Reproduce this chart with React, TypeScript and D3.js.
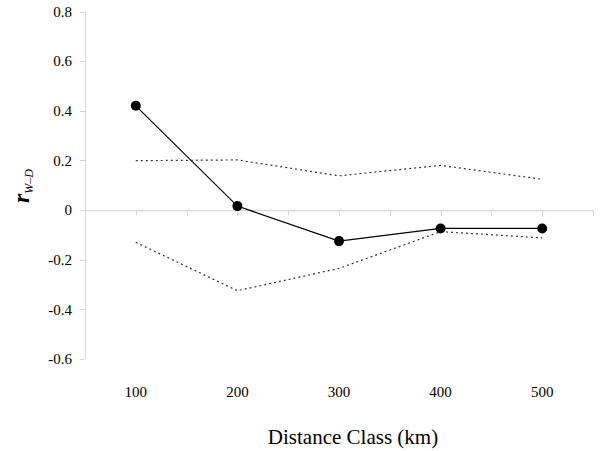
import { useRef, useEffect } from "react";
import * as d3 from "d3";

const distances = [100, 200, 300, 400, 500];
const observed = [0.42, 0.016, -0.125, -0.074, -0.074];
const upperCI = [0.199, 0.202, 0.138, 0.18, 0.124];
const lowerCI = [-0.13, -0.325, -0.235, -0.087, -0.112];
const yTicks = [0.8, 0.6, 0.4, 0.2, 0, -0.2, -0.4, -0.6];
const xTickLabels = ["100", "200", "300", "400", "500"];

const width = 600;
const height = 451;
const font = "Liberation Serif, Times New Roman, Times, DejaVu Serif, serif";
const axisColor = "#d9d9d9";

export default function App() {
  const svgRef = useRef<SVGSVGElement>(null);

  useEffect(() => {
    const svg = d3.select(svgRef.current);
    svg.selectAll("*").remove();

    const x = d3.scaleLinear().domain([50, 550]).range([85, 593]);
    const y = d3.scaleLinear().domain([-0.6, 0.8]).range([359, 11.5]);

    // y axis
    svg.append("line")
      .attr("x1", 85.5).attr("x2", 85.5)
      .attr("y1", y(0.8)).attr("y2", y(-0.6))
      .attr("stroke", axisColor).attr("stroke-width", 1);

    svg.selectAll(".ytick")
      .data(yTicks)
      .enter()
      .append("line")
      .attr("x1", 80).attr("x2", 85)
      .attr("y1", (d) => Math.round(y(d)) + 0.5)
      .attr("y2", (d) => Math.round(y(d)) + 0.5)
      .attr("stroke", axisColor);

    svg.selectAll(".ylab")
      .data(yTicks)
      .enter()
      .append("text")
      .attr("x", 72)
      .attr("y", (d) => y(d))
      .attr("dy", "0.35em")
      .attr("text-anchor", "end")
      .attr("font-family", font)
      .attr("font-size", 15)
      .attr("fill", "#000")
      .text((d) => (d === 0 ? "0" : d.toFixed(1)));

    // zero line as x axis
    const y0 = Math.round(y(0)) + 0.5;
    svg.append("line")
      .attr("x1", 85).attr("x2", 593)
      .attr("y1", y0).attr("y2", y0)
      .attr("stroke", axisColor).attr("stroke-width", 1.5);

    const xTicks = d3.range(100, 551, 50);
    svg.selectAll(".xtick")
      .data(xTicks)
      .enter()
      .append("line")
      .attr("x1", (d) => Math.round(x(d)) + 0.5)
      .attr("x2", (d) => Math.round(x(d)) + 0.5)
      .attr("y1", y0).attr("y2", y0 + 5)
      .attr("stroke", axisColor);

    svg.selectAll(".xlab")
      .data(distances)
      .enter()
      .append("text")
      .attr("x", (d) => x(d))
      .attr("y", 397)
      .attr("text-anchor", "middle")
      .attr("font-family", font)
      .attr("font-size", 15)
      .attr("fill", "#000")
      .text((d, i) => xTickLabels[i]);

    // axis titles
    svg.append("text")
      .attr("x", 353)
      .attr("y", 444)
      .attr("text-anchor", "middle")
      .attr("font-family", font)
      .attr("font-size", 21)
      .attr("fill", "#000")
      .text("Distance Class (km)");

    const yt = svg.append("text")
      .attr("transform", "translate(29,186) rotate(-90)")
      .attr("text-anchor", "middle")
      .attr("font-family", font)
      .attr("fill", "#000");
    yt.append("tspan")
      .attr("font-size", 24)
      .attr("font-weight", "bold")
      .attr("font-style", "italic")
      .text("r");
    yt.append("tspan")
      .attr("dy", 4)
      .attr("font-size", 12)
      .attr("font-style", "italic")
      .text("W–D");

    // confidence envelopes
    const line = d3.line<number>()
      .x((d, i) => x(distances[i]))
      .y((d) => y(d));

    [upperCI, lowerCI].forEach((s) => {
      svg.append("path")
        .datum(s)
        .attr("fill", "none")
        .attr("stroke", "#333")
        .attr("stroke-width", 1.2)
        .attr("stroke-dasharray", "2,3")
        .attr("d", line);
    });

    // observed
    svg.append("path")
      .datum(observed)
      .attr("fill", "none")
      .attr("stroke", "#000")
      .attr("stroke-width", 1.2)
      .attr("d", line);

    svg.selectAll(".pt")
      .data(observed)
      .enter()
      .append("circle")
      .attr("cx", (d, i) => x(distances[i]))
      .attr("cy", (d) => y(d))
      .attr("r", 5)
      .attr("fill", "#000");
  }, []);

  return (
    <svg
      ref={svgRef}
      width={width}
      height={height}
      style={{ position: "absolute", left: 0, top: 0, background: "#fff" }}
    />
  );
}
